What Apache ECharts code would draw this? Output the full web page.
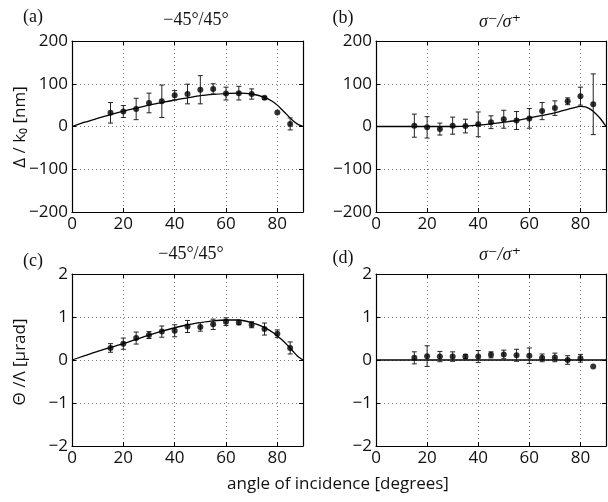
<!DOCTYPE html>
<html><head><meta charset="utf-8">
<script src="https://cdn.jsdelivr.net/npm/echarts@6/dist/echarts.min.js"></script>
<style>html,body{margin:0;padding:0;background:#fff}#c{width:608px;height:502px}</style>
</head><body><div id="c"></div>
<script>
// ---- data ----
const angles = [15,20,25,30,35,40,45,50,55,60,65,70,75,80,85];

// (a) Delta/k0 [nm], -45/45
const aVal = [32,35,41,55,59,73,76,86,88,77,78,76,67,33,6];
const aErr = [24,14,25,23,38,11,23,33,12,15,16,12,3,0,14];
const aFitX = [0,5,10,15,20,25,30,35,40,45,50,55,60,65,70,75,78,80,82,84,86,88,90];
const aFitY = [0,10,19,28,36,43,50,56,62,67,72,75,77,78,76,68,59,50,38,26,14,5,0];

// (b) Delta/k0 [nm], sigma-/sigma+
const bVal = [2,-2,-6,2,1,5,10,17,14,19,36,43,59,71,52];
const bErr = [27,25,14,20,16,29,15,21,21,23,20,17,8,21,71];
const bFitX = [0,10,20,30,35,40,45,50,55,60,65,70,75,78,80,82,84,86,88,90];
const bFitY = [0,0,0,0,1,3,6,10,14,20,26,32,40,45,47,46,40,30,17,0];

// (c) Theta/Lambda [urad], -45/45
const cVal = [0.28,0.38,0.51,0.58,0.66,0.68,0.78,0.77,0.83,0.89,0.87,0.82,0.72,0.61,0.28];
const cErr = [0.10,0.13,0.14,0.08,0.13,0.14,0.14,0.10,0.12,0.09,0.05,0.07,0.14,0.09,0.14];
const cFitX = [0,5,10,15,20,25,30,35,40,45,50,55,60,65,70,75,78,80,82,84,86,88,90];
const cFitY = [0,0.10,0.20,0.29,0.38,0.48,0.58,0.67,0.75,0.82,0.87,0.91,0.93,0.93,0.87,0.76,0.65,0.56,0.46,0.34,0.21,0.08,0];

// (d) Theta/Lambda [urad], sigma-/sigma+
const dVal = [0.05,0.09,0.08,0.08,0.08,0.08,0.12,0.13,0.11,0.10,0.05,0.06,0.00,0.04,-0.15];
const dErr = [0.14,0.24,0.12,0.11,0.05,0.14,0.07,0.10,0.14,0.18,0.09,0.10,0.10,0.09,0];
const dFitX = [0,90];
const dFitY = [0,0];

const xTicks = {min:0, max:90, interval:20};
const yTicksTop = {min:-200, max:200, interval:100};
const yTicksBot = {min:-2, max:2, interval:1};

const titles = ['−45°/45°','σ⁻/σ⁺','−45°/45°','σ⁻/σ⁺'];
const panelLabels = ['(a)','(b)','(c)','(d)'];

// ---- chart ----
const tickFont = {fontFamily:'Open Sans', fontSize:17, color:'#111'};
const grids = [
  {left:72, top:41, width:231, height:171},
  {left:376, top:41, width:230, height:171},
  {left:72, top:274, width:231, height:172},
  {left:376, top:274, width:230, height:172}
];
const minus = v => String(v).replace('-', '−');
const xAxes = [], yAxes = [];
grids.forEach((g, i) => {
  const yt = i < 2 ? yTicksTop : yTicksBot;
  const common = () => ({type:'value', gridIndex:i,
    axisLine:{show:true, onZero:false, lineStyle:{color:'#000', width:1.2}},
    axisTick:{show:true, inside:true, length:4, lineStyle:{color:'#000'}}});
  xAxes.push(Object.assign(common(), {position:'bottom', min:xTicks.min, max:xTicks.max, interval:xTicks.interval,
    axisLabel:Object.assign({show:true, margin:4, showMaxLabel:false, formatter:minus}, tickFont),
    splitLine:{show:true, lineStyle:{type:[1,3], color:'#777', width:1}}}));
  xAxes.push(Object.assign(common(), {position:'top', min:xTicks.min, max:xTicks.max, interval:xTicks.interval,
    axisLabel:{show:false}, splitLine:{show:false}}));
  yAxes.push(Object.assign(common(), {position:'left', min:yt.min, max:yt.max, interval:yt.interval,
    axisLabel:Object.assign({show:true, margin:4, formatter:minus}, tickFont),
    splitLine:{show:true, lineStyle:{type:[1,3], color:'#777', width:1}}}));
  yAxes.push(Object.assign(common(), {position:'right', min:yt.min, max:yt.max, interval:yt.interval,
    axisLabel:{show:false}, splitLine:{show:false}}));
});

function errRender(params, api) {
  const x = api.value(0), lo = api.value(1), hi = api.value(2);
  if (hi - lo <= 0) return null;
  const p1 = api.coord([x, lo]), p2 = api.coord([x, hi]);
  const w = 2.5;
  const st = {stroke:'#222', lineWidth:1};
  return {type:'group', children:[
    {type:'line', shape:{x1:p1[0], y1:p1[1], x2:p2[0], y2:p2[1]}, style:st},
    {type:'line', shape:{x1:p1[0]-w, y1:p1[1], x2:p1[0]+w, y2:p1[1]}, style:st},
    {type:'line', shape:{x1:p2[0]-w, y1:p2[1], x2:p2[0]+w, y2:p2[1]}, style:st}
  ]};
}

const panels = [
  [aVal, aErr, aFitX, aFitY],
  [bVal, bErr, bFitX, bFitY],
  [cVal, cErr, cFitX, cFitY],
  [dVal, dErr, dFitX, dFitY]
];
const series = [];
panels.forEach((p, i) => {
  const [vals, errs, fx, fy] = p;
  series.push({type:'line', xAxisIndex:2*i, yAxisIndex:2*i, data:fx.map((x,k)=>[x, fy[k]]),
    smooth:0.2, showSymbol:false, symbol:'none', lineStyle:{color:'#000', width:1.3}, z:3});
  series.push({type:'custom', xAxisIndex:2*i, yAxisIndex:2*i, renderItem:errRender,
    encode:{x:0, y:[1,2]}, data:angles.map((a,k)=>[a, vals[k]-errs[k], vals[k]+errs[k]]), z:4});
  series.push({type:'scatter', xAxisIndex:2*i, yAxisIndex:2*i, data:angles.map((a,k)=>[a, vals[k]]),
    symbol:'circle', symbolSize:6, itemStyle:{color:'#000'}, z:5});
});

const serif = "'Liberation Serif','DejaVu Serif',serif";
const titlePos = [[196,20],[500,22],[191,254],[500,255]];
const labelPos = [[33,17],[343,18],[33,261],[343,258]];
const graphic = [];
titles.forEach((t, i) => {
  graphic.push({type:'text', x:titlePos[i][0], y:titlePos[i][1], style:{text:t, fontFamily:serif,
    fontStyle: i % 2 ? 'italic' : 'normal', fontSize:18, fill:'#111', align:'center', verticalAlign:'middle'}});
  graphic.push({type:'text', x:labelPos[i][0], y:labelPos[i][1], style:{text:panelLabels[i], fontFamily:serif,
    fontSize:18, fill:'#111', align:'center', verticalAlign:'middle'}});
});
graphic.push({type:'text', x:20, y:127, rotation:Math.PI/2, style:{text:'Δ / k₀ [nm]', fontFamily:"'Open Sans','DejaVu Sans'",
  fontSize:17, fill:'#111', align:'center', verticalAlign:'middle'}});
graphic.push({type:'text', x:20, y:362, rotation:Math.PI/2, style:{text:'Θ /Λ [μrad]', fontFamily:"'Open Sans','DejaVu Sans'",
  fontSize:17, fill:'#111', align:'center', verticalAlign:'middle'}});
graphic.push({type:'text', x:338, y:484, style:{text:'angle of incidence [degrees]', fontFamily:"'Open Sans'",
  fontSize:17, fill:'#111', align:'center', verticalAlign:'middle'}});

const chart = echarts.init(document.getElementById('c'), null, {renderer:'canvas'});
chart.setOption({animation:false, backgroundColor:'#fff', grid:grids, xAxis:xAxes, yAxis:yAxes, series, graphic});
</script></body></html>
